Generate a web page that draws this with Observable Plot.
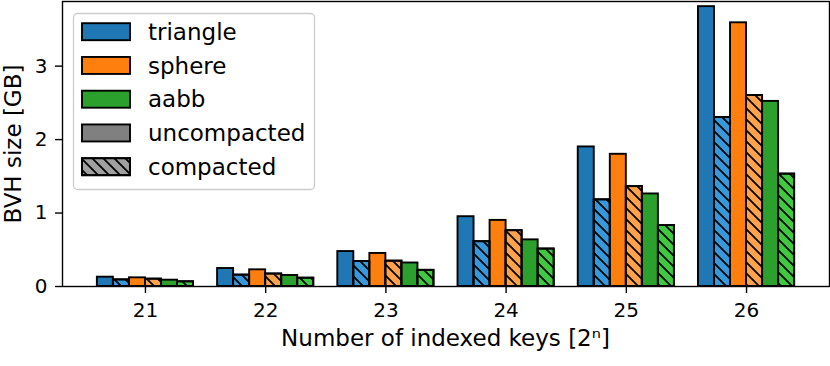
<!DOCTYPE html>
<html>
<head>
<meta charset="utf-8">
<script src="https://cdn.jsdelivr.net/npm/d3@7"></script>
<script src="https://cdn.jsdelivr.net/npm/@observablehq/plot@0.6"></script>
<style>
  html, body { margin: 0; padding: 0; background: white; }
  #chart { width: 830px; height: 366px; }
</style>
</head>
<body>
<div id="chart"></div>
<script>
// ---- data ----
const keys = [21, 22, 23, 24, 25, 26];
const primitives = ["triangle", "sphere", "aabb"];
const triangleUncompacted = [0.127, 0.245, 0.476, 0.95, 1.90, 3.81];
const triangleCompacted   = [0.090, 0.155, 0.340, 0.61, 1.18, 2.30];
const sphereUncompacted   = [0.118, 0.227, 0.450, 0.90, 1.80, 3.59];
const sphereCompacted     = [0.100, 0.170, 0.345, 0.76, 1.36, 2.60];
const aabbUncompacted     = [0.086, 0.150, 0.320, 0.635, 1.26, 2.52];
const aabbCompacted       = [0.064, 0.113, 0.220, 0.51, 0.83, 1.53];
const yTicks = [0, 1, 2, 3];
const legendLabels = ["triangle", "sphere", "aabb", "uncompacted", "compacted"];

// ---- styles ----
const baseColors = {triangle: "#1f77b4", sphere: "#ff7f0e", aabb: "#2ca02c"};
const lightColors = {triangle: "#3799dc", sphere: "#ffa24a", aabb: "#40c940"};

const series = {
  triangle: [triangleUncompacted, triangleCompacted],
  sphere: [sphereUncompacted, sphereCompacted],
  aabb: [aabbUncompacted, aabbCompacted]
};

const groupWidth = 0.8;
const nSlots = 6;
const w = groupWidth / nSlots;

const rows = [];
keys.forEach((k, ki) => {
  primitives.forEach((p, pi) => {
    [0, 1].forEach(c => {
      const slot = pi * 2 + c;
      rows.push({
        key: k,
        primitive: p,
        compacted: c === 1,
        value: series[p][c][ki],
        x1: k - groupWidth / 2 + slot * w,
        x2: k - groupWidth / 2 + (slot + 1) * w,
        color: c === 1 ? lightColors[p] : baseColors[p]
      });
    });
  });
});

const font = "DejaVu Sans, sans-serif";

const plot = Plot.plot({
  width: 830,
  height: 366,
  marginLeft: 62,
  marginRight: 1,
  marginTop: 1,
  marginBottom: 80,
  style: {fontFamily: font, fontSize: "20px", color: "black", background: "white"},
  x: {domain: [20.31, 26.69], label: null},
  y: {domain: [0, 3.88], label: null},
  marks: [
    Plot.rect(rows, {
      x1: "x1", x2: "x2", y1: 0, y2: "value",
      fill: d => d.color, stroke: "black", strokeWidth: 1.9
    }),
    Plot.rect(rows.filter(d => d.compacted), {
      x1: "x1", x2: "x2", y1: 0, y2: "value",
      fill: "url(#hatch)", stroke: "black", strokeWidth: 1.9
    }),
    Plot.axisX({ticks: keys, tickFormat: d => String(d), tickSize: 7, tickPadding: 9,
      fontSize: 20, strokeWidth: 1.4, label: null}),
    Plot.axisY({ticks: yTicks, tickFormat: d => String(d), tickSize: 7, tickPadding: 8,
      fontSize: 20, strokeWidth: 1.4, label: null}),
    Plot.frame({stroke: "black", strokeWidth: 1.4})
  ]
});

const svg = d3.select(plot);
svg.style("font-family", font);
svg.selectAll("text").style("font-size", "20px").style("font-family", font);

// hatch pattern
const defs = svg.insert("defs", ":first-child");
const pat = defs.append("pattern")
  .attr("id", "hatch")
  .attr("patternUnits", "userSpaceOnUse")
  .attr("width", 11).attr("height", 11);
pat.append("path")
  .attr("d", "M0,0L11,11M-2.75,8.25L2.75,13.75M8.25,-2.75L13.75,2.75")
  .attr("stroke", "black").attr("stroke-width", 1.8).attr("fill", "none");

// axis labels
svg.append("text")
  .attr("x", 445.5).attr("y", 346)
  .attr("text-anchor", "middle")
  .style("font-size", "23px").attr("font-family", font).attr("fill", "black")
  .text("Number of indexed keys [2ⁿ]");
svg.append("text")
  .attr("transform", "translate(20.5,144) rotate(-90)")
  .attr("text-anchor", "middle")
  .style("font-size", "23px").attr("font-family", font).attr("fill", "black")
  .text("BVH size [GB]");

// legend
const lg = svg.append("g").attr("text-anchor", "start");
lg.append("rect")
  .attr("x", 73.5).attr("y", 13.5).attr("width", 241).attr("height", 176)
  .attr("rx", 4).attr("fill", "white").attr("fill-opacity", 0.8)
  .attr("stroke", "#cccccc").attr("stroke-width", 1.3);
const legendFills = [baseColors.triangle, baseColors.sphere, baseColors.aabb, "#808080", "#a0a0a0"];
legendLabels.forEach((lab, i) => {
  const cy = 31.7 + i * 33.75;
  lg.append("rect")
    .attr("x", 82).attr("y", cy - 8.5).attr("width", 48).attr("height", 17)
    .attr("fill", legendFills[i]).attr("stroke", "black").attr("stroke-width", 1.9);
  if (lab === "compacted") {
    lg.append("rect")
      .attr("x", 82).attr("y", cy - 8.5).attr("width", 48).attr("height", 17)
      .attr("fill", "url(#hatch)").attr("stroke", "black").attr("stroke-width", 1.9);
  }
  lg.append("text")
    .attr("x", 148).attr("y", cy).attr("dy", "0.35em")
    .attr("text-anchor", "start")
    .style("font-size", "23px").attr("font-family", font).attr("fill", "black")
    .text(lab);
});

document.getElementById("chart").appendChild(plot);
</script>
</body>
</html>
